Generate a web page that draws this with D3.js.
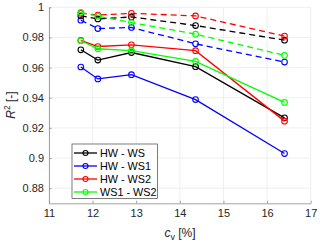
<!DOCTYPE html>
<html>
<head>
<meta charset="utf-8">
<script src="https://cdn.jsdelivr.net/npm/d3@7"></script>
<style>
  body { margin: 0; background: #fff; }
  text { font-family: "Liberation Sans", Arial, sans-serif; }
</style>
</head>
<body>
<svg id="chart" width="320" height="246"></svg>
<script>
// c_v values [%]
const cv = [11.73, 12.12, 12.89, 14.36, 16.40];

// solid series (R^2)
const hwWs   = [0.9718, 0.9650, 0.9700, 0.9606, 0.9267];
const hwWs1  = [0.9604, 0.9525, 0.9553, 0.9388, 0.9030];
const hwWs2  = [0.9780, 0.9740, 0.9751, 0.9712, 0.9245];
const ws1Ws2 = [0.9778, 0.9725, 0.9712, 0.9641, 0.9369];

// dashed series (R^2)
const hwWsD   = [0.9943, 0.9923, 0.9936, 0.9879, 0.9782];
const hwWs1D  = [0.9914, 0.9859, 0.9866, 0.9758, 0.9637];
const hwWs2D  = [0.9960, 0.9949, 0.9960, 0.9943, 0.9809];
const ws1Ws2D = [0.9967, 0.9941, 0.9899, 0.9822, 0.9681];

const names = ['HW - WS', 'HW - WS1', 'HW - WS2', 'WS1 - WS2'];
const colors = ['#000000', '#0000ff', '#ff0000', '#00ff00'];

const xTicks = [11, 12, 13, 14, 15, 16, 17];
const yTicks = [0.88, 0.9, 0.92, 0.94, 0.96, 0.98, 1];

const svg = d3.select('#chart');
const margin = {top: 7.3, right: 9.3, bottom: 42.7, left: 49};
const width = 320 - margin.left - margin.right;
const height = 246 - margin.top - margin.bottom;
const g = svg.append('g').attr('transform', `translate(${margin.left}, ${margin.top})`);

const x = d3.scaleLinear().domain([11, 17]).range([0, width]);
const y = d3.scaleLinear().domain([0.87, 1]).range([height, 0]);

// grid
g.append('g').selectAll('line').data(xTicks).join('line')
  .attr('x1', d => x(d)).attr('x2', d => x(d))
  .attr('y1', 0).attr('y2', height)
  .attr('stroke', '#ebebeb').attr('stroke-width', 0.8);
g.append('g').selectAll('line').data(yTicks).join('line')
  .attr('x1', 0).attr('x2', width)
  .attr('y1', d => y(d)).attr('y2', d => y(d))
  .attr('stroke', '#ebebeb').attr('stroke-width', 0.8);

// axes
const xAxis = d3.axisBottom(x).tickValues(xTicks).tickFormat(d3.format('d'))
  .tickSizeInner(-2.5).tickSizeOuter(0).tickPadding(6);
const yAxis = d3.axisLeft(y).tickValues(yTicks).tickFormat(d => d === 1 ? '1' : d3.format('')(+d.toFixed(2)))
  .tickSizeInner(-2.5).tickSizeOuter(0).tickPadding(5);

const gx = g.append('g').attr('transform', `translate(0, ${height})`).call(xAxis);
const gy = g.append('g').call(yAxis);
[gx, gy].forEach(a => {
  a.select('.domain').attr('stroke', '#8a8a8a').attr('stroke-width', 0.8);
  a.selectAll('.tick line').attr('stroke', '#8a8a8a').attr('stroke-width', 0.8);
  a.selectAll('.tick text').attr('fill', '#262626').style('font-size', '11px')
    .style('font-family', '"Liberation Sans", Arial, sans-serif');
});

// axis labels
const xl = svg.append('text')
  .attr('x', 180).attr('y', 237)
  .attr('text-anchor', 'middle')
  .attr('fill', '#262626').style('font-size', '12px');
xl.append('tspan').attr('font-style', 'italic').text('c');
xl.append('tspan').attr('dy', 3).style('font-size', '9px').text('v');
xl.append('tspan').attr('dy', -3).text(' [%]');

const yl = svg.append('text')
  .attr('transform', 'translate(15, 105) rotate(-90)')
  .attr('text-anchor', 'middle')
  .attr('fill', '#262626').style('font-size', '12px');
yl.append('tspan').attr('font-style', 'italic').text('R');
yl.append('tspan').attr('dy', -5).style('font-size', '8.5px').text('2');
yl.append('tspan').attr('dy', 5).text(' [-]');

const line = d3.line().x(d => x(d[0])).y(d => y(d[1]));

const solid = [hwWs, hwWs1, hwWs2, ws1Ws2];
const dashed = [hwWsD, hwWs1D, hwWs2D, ws1Ws2D];

function drawSeries(values, color, dash) {
  const pts = cv.map((c, i) => [c, values[i]]);
  g.append('path').datum(pts)
    .attr('fill', 'none').attr('stroke', color)
    .attr('stroke-width', 1.3)
    .attr('stroke-dasharray', dash ? '6,4' : null)
    .attr('d', line);
  g.append('g').selectAll('circle').data(pts).join('circle')
    .attr('cx', d => x(d[0])).attr('cy', d => y(d[1]))
    .attr('r', 2.8).attr('fill', 'none')
    .attr('stroke', color).attr('stroke-width', 1.1);
}

dashed.forEach((s, i) => drawSeries(s, colors[i], true));
solid.forEach((s, i) => drawSeries(s, colors[i], false));

// legend
const lg = svg.append('g').attr('transform', 'translate(72, 144)');
lg.append('rect').attr('width', 85.5).attr('height', 54.5)
  .attr('fill', '#fff').attr('stroke', '#262626').attr('stroke-width', 0.6);
names.forEach((n, i) => {
  const yy = 9 + i * 13;
  lg.append('line').attr('x1', 2).attr('x2', 25).attr('y1', yy).attr('y2', yy)
    .attr('stroke', colors[i]).attr('stroke-width', 1.3);
  lg.append('circle').attr('cx', 13.5).attr('cy', yy).attr('r', 2.5)
    .attr('fill', 'none').attr('stroke', colors[i]).attr('stroke-width', 1.1);
  lg.append('text').attr('x', 28).attr('y', yy + 4)
    .attr('fill', '#000').style('font-size', '10.8px').text(n);
});
</script>
</body>
</html>
